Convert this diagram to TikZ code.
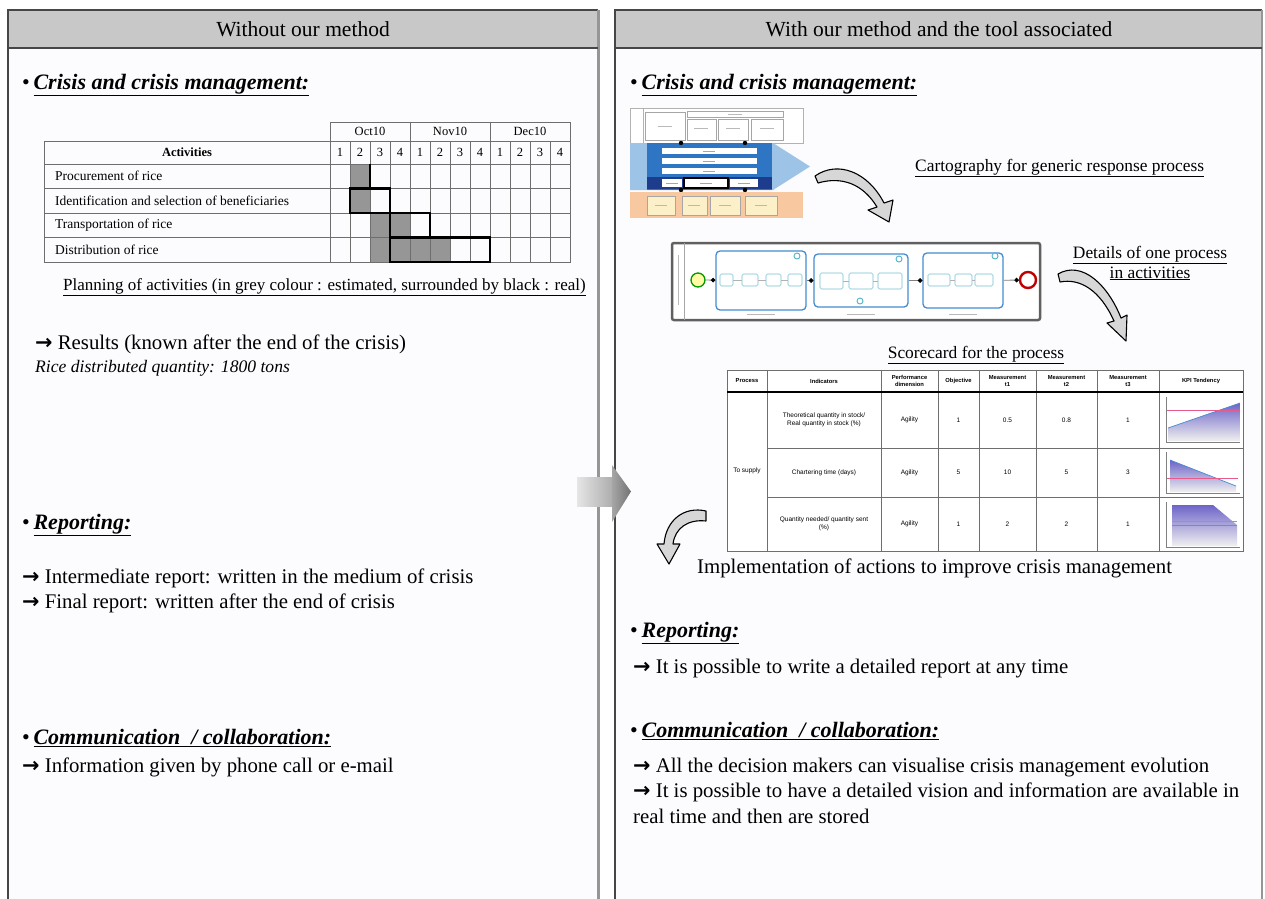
\documentclass[tikz,border=0pt]{standalone}
\usepackage{fontspec}
\setmainfont{Liberation Serif}
\newfontfamily\sansf{Liberation Sans}
\newfontfamily\symf{DejaVu Sans}
\usetikzlibrary{arrows.meta}
\newcommand\fsz[2]{\fontsize{#1pt}{#2pt}\selectfont}
\newcommand\rar{{\symf\bfseries →}\ }
\newcommand\hdg[1]{•\,\underline{\textbf{\textit{#1}}}}
\definecolor{hdrgray}{RGB}{200,200,200}
\definecolor{framedark}{RGB}{70,70,70}
\definecolor{framelight}{RGB}{150,150,150}
\definecolor{panelbg}{RGB}{252,252,254}
\definecolor{ganttgray}{RGB}{150,150,150}
\definecolor{gridgray}{RGB}{110,110,110}
\definecolor{cartblue}{RGB}{157,195,230}
\definecolor{cartdark}{RGB}{46,117,196}
\definecolor{cartnavy}{RGB}{30,60,140}
\definecolor{cartorange}{RGB}{248,200,160}
\definecolor{cartyellow}{RGB}{252,240,200}
\definecolor{procblue}{RGB}{70,140,210}
\definecolor{procteal}{RGB}{80,180,200}
\definecolor{kpipurple}{RGB}{110,100,200}
\definecolor{kpipink}{RGB}{230,90,140}
\definecolor{arrowfill}{RGB}{215,215,215}
\tikzset{
 txt/.style={anchor=base west, inner sep=0pt, font=\fsz{20.8}{25}},
 hd/.style={anchor=base west, inner sep=0pt, font=\fsz{22}{26}},
 ctxt/.style={anchor=base, inner sep=0pt, font=\fsz{17.4}{20}},
 hdrtxt/.style={anchor=center, inner sep=0pt, font=\fsz{21.5}{25}},
 gtxt/.style={anchor=west, inner sep=0pt, font=\fsz{13.5}{15}},
 gnum/.style={anchor=center, inner sep=0pt, font=\fsz{12.5}{14}},
 stxt/.style={align=center, inner sep=0pt, font=\sansf\fsz{6.5}{8}},
 shdr/.style={align=center, inner sep=0pt, font=\sansf\bfseries\fsz{5.8}{6.5}},
 realbox/.style={line width=2.5pt, draw=black},
 handarrow/.style={draw=black, line width=1.1pt, fill=arrowfill, line join=round},
 sub/.style={draw=procblue, line width=1.3pt, rounded corners=4pt, fill=white, inner sep=0pt},
 task/.style={draw=procteal!80, line width=0.6pt, rounded corners=1.5pt, fill=white, inner sep=0pt},
 conn/.style={draw=gray, line width=0.8pt, -{Circle[length=4.5pt,color=black]}},
 tconn/.style={draw=gray!60, line width=0.4pt},
 cellbox/.style={draw=gray!70, line width=0.5pt, fill=white},
 scribble/.style={draw=gray!55, line width=0.5pt},
}
\begin{document}
\begin{tikzpicture}[x=1pt,y=-1pt]
\useasboundingbox (0,0) rectangle (1265,898);
\fill[white] (0,0) rectangle (1265,898);

% ---------- panels ----------
\fill[panelbg] (8,48) rectangle (598,905);
\fill[panelbg] (615,48) rectangle (1262,905);
\fill[hdrgray] (8,10) rectangle (598,48);
\fill[hdrgray] (615,10) rectangle (1262,48);
\draw[framedark, line width=2pt] (8,905) -- (8,10) -- (598,10);
\draw[framelight, line width=3pt] (598,10) -- (598,905);
\draw[framedark, line width=2pt] (8,48) -- (598,48);
\draw[framedark, line width=2pt] (615,905) -- (615,10) -- (1262,10);
\draw[framelight, line width=2pt] (1262,10) -- (1262,905);
\draw[framedark, line width=2pt] (615,48) -- (1262,48);
\node[hdrtxt] (lhead) at (303,29) {Without our method};
\node[hdrtxt] (rhead) at (939,29) {With our method and the tool associated};

% ---------- central arrow ----------
\shade[left color=gray!20, right color=gray!65] (577,477) rectangle (613,506);
\shade[left color=gray!70, right color=gray!90!black] (612,465) -- (631,491.5) -- (612,522) -- cycle;

% ---------- left panel ----------
\node[hd] (lcrisis) at (22,89) {\hdg{Crisis and crisis management:}};

% gantt fills
\fill[ganttgray] (350,164) rectangle (370,188.5);
\fill[ganttgray] (350,188.5) rectangle (370,213);
\fill[ganttgray] (370,213) rectangle (410,237.5);
\fill[ganttgray] (370,237.5) rectangle (450,262);
% gantt grid
\draw[gridgray, line width=0.8pt] (44,141) rectangle (570,262);
\draw[gridgray, line width=0.8pt] (330,122) rectangle (570,141);
\foreach \xx in {410,490} \draw[gridgray, line width=0.8pt] (\xx,122) -- (\xx,141);
\foreach \k in {0,...,11} \draw[gridgray, line width=0.8pt] (330+20*\k,141) -- (330+20*\k,262);
\foreach \yy in {164,188.5,213,237.5} \draw[gridgray, line width=0.8pt] (44,\yy) -- (570,\yy);
% real boxes
\draw[realbox] (370,164) -- (370,188.5);
\draw[realbox] (350,188.5) rectangle (390,213);
\draw[realbox] (390,213) rectangle (430,237.5);
\draw[realbox] (390,237.5) rectangle (490,262);
% gantt texts
\node[gnum] (moct) at (370,131.5) {Oct10};
\node[gnum] (mnov) at (450,131.5) {Nov10};
\node[gnum] (mdec) at (530,131.5) {Dec10};
\foreach \k in {0,...,11} {
  \pgfmathtruncatemacro{\wk}{mod(\k,4)+1}
  \node[gnum] (wk\k) at (340+20*\k,152.5) {\wk};
}
\node[gnum, font=\bfseries\fsz{12.5}{14}] (gact) at (187,152.5) {Activities};
\node[gtxt] (ga1) at (55,176) {Procurement of rice};
\node[gtxt] (ga2) at (55,200.5) {Identification and selection of beneficiaries};
\node[gtxt] (ga3) at (55,225) {Transportation of rice};
\node[gtxt] (ga4) at (55,249.5) {Distribution of rice};
\node[ctxt, anchor=base west, font=\fsz{17}{20}] (gcap) at (63,290) {\underline{Planning of activities (in grey colour : estimated, surrounded by black : real)}};

\node[txt] (lres) at (35,349) {\rar Results (known after the end of the crisis)};
\node[txt, font=\itshape\fsz{17.6}{20}] (lrice) at (35,372) {Rice distributed quantity: 1800 tons};

\node[hd] (lrep) at (22,529) {\hdg{Reporting:}};
\node[txt] (lrep1) at (22,583) {\rar Intermediate report: written in the medium of crisis};
\node[txt] (lrep2) at (22,608) {\rar Final report: written after the end of crisis};

\node[hd] (lcom) at (22,744) {\hdg{Communication\ \ / collaboration:}};
\node[txt] (lcom1) at (22,772) {\rar Information given by phone call or e-mail};

% ---------- right panel ----------
\node[hd] (rcrisis) at (630,89) {\hdg{Crisis and crisis management:}};

% cartography thumbnail
\draw[gray!60, line width=0.6pt, fill=white] (630,108) rectangle (803,143);
\draw[gray!60, line width=0.5pt] (643,108) -- (643,143);
\draw[cellbox] (645,112) rectangle (685,140);
\draw[cellbox] (687,111) rectangle (783,117);
\draw[cellbox] (687,119) rectangle (716,140);
\draw[cellbox] (718,119) rectangle (748,140);
\draw[cellbox] (751,119) rectangle (783,140);
\foreach \cx/\cy in {665/126, 701/128, 733/128, 767/128, 735/114} \draw[scribble] (\cx-7,\cy) -- (\cx+7,\cy);
\fill[cartblue] (630,143) -- (773,143) -- (810,166.5) -- (773,190) -- (630,190) -- cycle;
\fill[cartdark] (647,143) rectangle (772,190);
\fill[white] (662,148) rectangle (757,154);
\fill[white] (662,158) rectangle (757,164);
\fill[white] (662,168) rectangle (757,174);
\fill[cartnavy] (647,177) rectangle (772,189);
\fill[white] (662,179) rectangle (682,187);
\fill[white] (684,179) rectangle (728,187);
\fill[white] (730,179) rectangle (758,187);
\draw[black, line width=1.6pt] (684,178) rectangle (728,188);
\foreach \cx/\cy in {709/151, 709/161, 709/171, 706/183, 672/183, 744/183} \draw[scribble, gray!70] (\cx-6,\cy) -- (\cx+6,\cy);
\foreach \cx/\cy in {681/143, 745/143, 681/190, 745/190} \fill[black] (\cx,\cy) circle (2.2);
\fill[cartorange] (630,192) rectangle (803,218);
\draw[cellbox, fill=cartyellow] (647,196) rectangle (675,215);
\draw[cellbox, fill=cartyellow] (682,196) rectangle (707,215);
\draw[cellbox, fill=cartyellow] (710,196) rectangle (740,215);
\draw[cellbox, fill=cartyellow] (745,196) rectangle (777,215);
\foreach \cx in {661,694,725,761} \draw[scribble] (\cx-6,205.5) -- (\cx+6,205.5);

\draw[handarrow] (815,176) .. controls (838,160) and (868,172) .. (884,203) -- (893,200) -- (889,222) -- (868,210) -- (877,207) .. controls (863,184) and (842,176) .. (818,183) -- cycle;
\node[ctxt, anchor=base west] (rcarto) at (915,171) {\underline{Cartography for generic response process}};

% process diagram
\node[draw=gray!75!black, line width=2.5pt, rounded corners=2pt, minimum width=368pt, minimum height=77pt, inner sep=0pt, fill=white] (proc) at (856,281.5) {};
\draw[gray!70, line width=0.6pt] (684,243) -- (684,320);
\draw[scribble] (678,255) -- (678,305);
\node[sub, minimum width=90pt, minimum height=59pt] (sp1) at (761,280.5) {};
\node[sub, minimum width=94pt, minimum height=53pt] (sp2) at (861,280.5) {};
\node[sub, minimum width=80pt, minimum height=55pt] (sp3) at (963,280.5) {};
\node[circle, draw=green!60!black, fill=yellow!35, line width=1.3pt, minimum size=14pt, inner sep=0pt] (pstart) at (698,280) {};
\node[circle, draw=red!75!black, fill=white, line width=2.4pt, minimum size=16pt, inner sep=0pt] (pend) at (1028,280) {};
\draw[conn] (pstart) -- (sp1);
\draw[conn] (sp1) -- (sp2);
\draw[conn] (sp2) -- (sp3);
\draw[conn] (sp3) -- (pend);
\node[task, minimum width=13pt, minimum height=12pt] (t11) at (726.5,280) {};
\node[task, minimum width=16pt, minimum height=12pt] (t12) at (750,280) {};
\node[task, minimum width=15pt, minimum height=12pt] (t13) at (773.5,280) {};
\node[task, minimum width=14pt, minimum height=12pt] (t14) at (795,280) {};
\draw[tconn] (t11) -- (t12); \draw[tconn] (t12) -- (t13); \draw[tconn] (t13) -- (t14);
\node[task, minimum width=23pt, minimum height=16pt] (t21) at (831.5,281) {};
\node[task, minimum width=24pt, minimum height=16pt] (t22) at (861,281) {};
\node[task, minimum width=24pt, minimum height=16pt] (t23) at (890,281) {};
\draw[tconn] (t21) -- (t22); \draw[tconn] (t22) -- (t23);
\node[task, minimum width=22pt, minimum height=12pt] (t31) at (939,280) {};
\node[task, minimum width=17pt, minimum height=12pt] (t32) at (963.5,280) {};
\node[task, minimum width=18pt, minimum height=12pt] (t33) at (984,280) {};
\draw[tconn] (t31) -- (t32); \draw[tconn] (t32) -- (t33);
\foreach \cx/\cy in {797/256, 899/259, 860/301, 995/256} \draw[procteal, line width=0.9pt, fill=white] (\cx,\cy) circle (3);
\foreach \cx in {761, 861, 963} \draw[scribble] (\cx-14,314) -- (\cx+14,314);

\draw[handarrow] (1058,274) .. controls (1082,260) and (1108,285) .. (1121,318) -- (1127,315) -- (1126,341) -- (1107,323) -- (1114,321) .. controls (1100,290) and (1080,278) .. (1060,282) -- cycle;
\node[ctxt] (rdet1) at (1150,258) {\underline{Details of one process}};
\node[ctxt] (rdet2) at (1150,278) {\underline{in activities}};
\node[ctxt] (rscore) at (976,358) {\underline{Scorecard for the process}};

% scorecard table
\fill[white] (727,370) rectangle (1243,551);
% KPI charts
\shade[top color=kpipurple, bottom color=gray!12] (1168,428) -- (1240,403) -- (1240,441) -- (1168,441) -- cycle;
\draw[procblue, line width=0.7pt] (1168,428) -- (1240,403);
\draw[kpipink, line width=0.8pt] (1166,410) -- (1240,410);
\shade[top color=kpipurple, bottom color=gray!12] (1170,460) -- (1236,486) -- (1236,492) -- (1170,492) -- cycle;
\draw[procblue, line width=0.7pt] (1170,460) -- (1236,486);
\draw[kpipink, line width=0.8pt] (1166,478) -- (1238,478);
\shade[top color=kpipurple, bottom color=gray!12] (1172,505) -- (1213,505) -- (1237,525) -- (1237,546) -- (1172,546) -- cycle;
\draw[procteal, line width=0.8pt] (1172,521) -- (1237,521);
\draw[kpipink, line width=0.8pt] (1172,525) -- (1237,525);
\foreach \ya/\yb in {397/442, 452/493, 502/547} {
  \draw[gray, line width=0.5pt] (1166,\ya) -- (1166,\yb) -- (1240,\yb);
}
\draw[gridgray, line width=0.8pt] (727,370) rectangle (1243,551);
\foreach \xx in {767,881,938,979,1036,1097,1159} \draw[gridgray, line width=0.8pt] (\xx,370) -- (\xx,551);
\draw[black, line width=2pt] (727,392) -- (1243,392);
\foreach \yy in {448,497} \draw[gridgray, line width=0.8pt] (767,\yy) -- (1243,\yy);
\node[shdr] (sh1) at (747,381) {Process};
\node[shdr] (sh2) at (824,381) {Indicators};
\node[shdr] (sh3) at (909.5,381) {Performance\\dimension};
\node[shdr] (sh4) at (958.5,381) {Objective};
\node[shdr] (sh5) at (1007.5,381) {Measurement\\t1};
\node[shdr] (sh6) at (1066.5,381) {Measurement\\t2};
\node[shdr] (sh7) at (1128,381) {Measurement\\t3};
\node[shdr] (sh8) at (1201,381) {KPI Tendency};
\node[stxt] (sp) at (747,471) {To supply};
\node[stxt] (r1a) at (824,420) {Theoretical quantity in stock/\\Real quantity in stock (\%)};
\node[stxt] (r1b) at (909.5,420) {Agility};
\node[stxt] (r1c) at (958.5,420) {1};
\node[stxt] (r1d) at (1007.5,420) {0.5};
\node[stxt] (r1e) at (1066.5,420) {0.8};
\node[stxt] (r1f) at (1128,420) {1};
\node[stxt] (r2a) at (824,472.5) {Chartering time (days)};
\node[stxt] (r2b) at (909.5,472.5) {Agility};
\node[stxt] (r2c) at (958.5,472.5) {5};
\node[stxt] (r2d) at (1007.5,472.5) {10};
\node[stxt] (r2e) at (1066.5,472.5) {5};
\node[stxt] (r2f) at (1128,472.5) {3};
\node[stxt] (r3a) at (824,524) {Quantity needed/ quantity sent\\(\%)};
\node[stxt] (r3b) at (909.5,524) {Agility};
\node[stxt] (r3c) at (958.5,524) {1};
\node[stxt] (r3d) at (1007.5,524) {2};
\node[stxt] (r3e) at (1066.5,524) {2};
\node[stxt] (r3f) at (1128,524) {1};

\draw[handarrow] (706,511) .. controls (684,506) and (666,520) .. (664,544) -- (657,544) -- (669,564) -- (680,544) -- (673,544) .. controls (675,528) and (688,519) .. (706,521) -- cycle;
\node[txt] (rimpl) at (697,573) {Implementation of actions to improve crisis management};

\node[hd] (rrep) at (630,637) {\hdg{Reporting:}};
\node[txt] (rrep1) at (633,673) {\rar It is possible to write a detailed report at any time};
\node[hd] (rcom) at (630,737) {\hdg{Communication\ \ / collaboration:}};
\node[txt] (rcom1) at (633,772) {\rar All the decision makers can visualise crisis management evolution};
\node[txt] (rcom2) at (633,797) {\rar It is possible to have a detailed vision and information are available in};
\node[txt] (rcom3) at (633,823) {real time and then are stored};
\end{tikzpicture}
\end{document}
